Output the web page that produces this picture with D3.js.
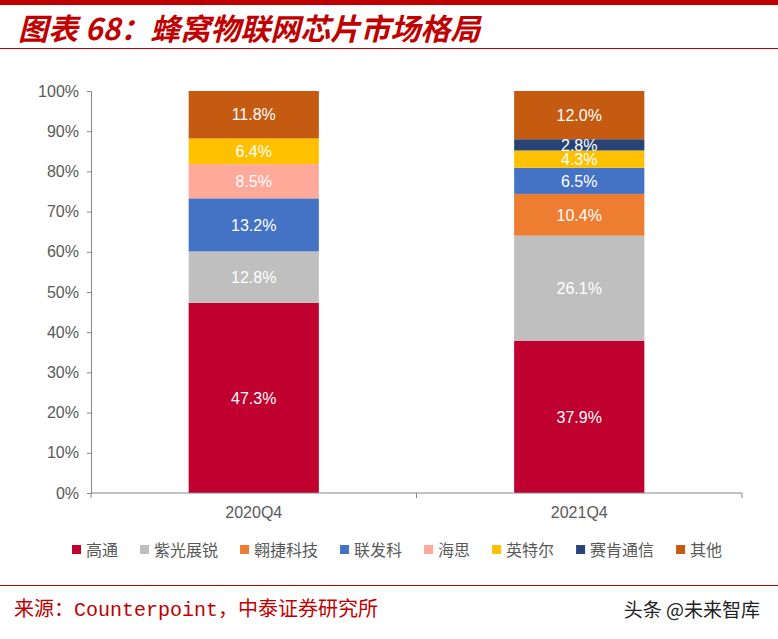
<!DOCTYPE html>
<html>
<head>
<meta charset="utf-8">
<script src="https://cdn.jsdelivr.net/npm/d3@7.9.0/dist/d3.min.js"></script>
<style>
  body { margin: 0; background: #fff; }
  svg { display: block; }
</style>
</head>
<body>
<svg id="chart" width="778" height="639"></svg>
<script>
// data
const quarters = ['2020Q4', '2021Q4'];
const vendors = ['高通', '紫光展锐', '翱捷科技', '联发科', '海思', '英特尔', '赛肯通信', '其他'];
const colors = ['#C0002E', '#BFBFBF', '#ED7D31', '#4472C4', '#FFA99A', '#FFC000', '#264478', '#C55A11'];
const share2020 = [47.3, 12.8, 0, 13.2, 8.5, 6.4, 0, 11.8];
const share2021 = [37.9, 26.1, 10.4, 6.5, 0, 4.3, 2.8, 12.0];
const yTicks = [0, 10, 20, 30, 40, 50, 60, 70, 80, 90, 100];

const svg = d3.select('#chart');
const red = '#C00000';
const grey = '#595959';

// header
svg.append('rect').attr('x', 0).attr('y', 0).attr('width', 778).attr('height', 5).attr('fill', red);
svg.append('line').attr('x1', 0).attr('x2', 778).attr('y1', 48.5).attr('y2', 48.5)
  .attr('stroke', red).attr('stroke-width', 1);
svg.append('text')
  .attr('x', 18).attr('y', 40)
  .attr('fill', red)
  .attr('font-family', '"Noto Sans CJK SC", sans-serif')
  .attr('font-weight', 'bold')
  .attr('font-style', 'italic')
  .attr('font-size', 30)
  .text('图表 68：蜂窝物联网芯片市场格局');

// scales
const x = d3.scaleBand().domain(quarters).range([91, 742]).paddingInner(0.6).paddingOuter(0.3);
const y = d3.scaleLinear().domain([0, 100]).range([493, 91]);

const table = quarters.map((q, qi) => {
  const vals = qi === 0 ? share2020 : share2021;
  let acc = 0;
  return vendors.map((v, i) => {
    const d = { quarter: q, vendor: v, value: vals[i], y0: acc, y1: acc + vals[i], color: colors[i] };
    acc += vals[i];
    return d;
  });
}).flat();

// bars
svg.append('g').selectAll('rect')
  .data(table.filter(d => d.value > 0))
  .join('rect')
  .attr('x', d => x(d.quarter))
  .attr('width', x.bandwidth())
  .attr('y', d => y(d.y1))
  .attr('height', d => y(d.y0) - y(d.y1))
  .attr('fill', d => d.color);

svg.append('g').selectAll('text')
  .data(table.filter(d => d.value > 0))
  .join('text')
  .attr('x', d => x(d.quarter) + x.bandwidth() / 2)
  .attr('y', d => y((d.y0 + d.y1) / 2))
  .attr('dy', '0.36em')
  .attr('text-anchor', 'middle')
  .attr('fill', '#fff')
  .attr('font-family', '"Liberation Sans", Arial, sans-serif')
  .attr('font-size', 16)
  .text(d => d.value.toFixed(1) + '%');

// axes
const yAxis = svg.append('g')
  .attr('transform', 'translate(91,0)')
  .call(d3.axisLeft(y).tickValues(yTicks).tickSize(4).tickPadding(8).tickFormat(d => d + '%'));
const xAxis = svg.append('g')
  .attr('transform', 'translate(0,493)')
  .call(d3.axisBottom(x).tickSize(0).tickPadding(14));

[yAxis, xAxis].forEach(g => {
  g.select('.domain').attr('stroke', '#868686');
  g.selectAll('.tick line').attr('stroke', '#868686');
  g.selectAll('text')
    .attr('fill', grey)
    .attr('font-family', '"Liberation Sans", Arial, sans-serif')
    .attr('font-size', 16);
});
xAxis.select('.domain').remove();
xAxis.append('line').attr('x1', 91).attr('x2', 742).attr('stroke', '#868686');
// category separator ticks
xAxis.selectAll('.sep')
  .data([91, (x(quarters[0]) + x.bandwidth() + x(quarters[1])) / 2, 742])
  .join('line')
  .attr('x1', d => d).attr('x2', d => d)
  .attr('y1', 0).attr('y2', 5)
  .attr('stroke', '#868686');

// legend
const legend = svg.append('g').attr('transform', 'translate(72,550)');
let lx = 0;
vendors.forEach((v, i) => {
  legend.append('rect').attr('x', lx).attr('y', -5).attr('width', 9).attr('height', 9).attr('fill', colors[i]);
  const t = legend.append('text')
    .attr('x', lx + 14).attr('y', 0).attr('dy', '0.36em')
    .attr('fill', grey)
    .attr('font-family', '"Noto Sans CJK SC", sans-serif')
    .attr('font-size', 16)
    .text(v);
  lx += 14 + t.node().getComputedTextLength() + 22;
});

// footer
svg.append('line').attr('x1', 0).attr('x2', 778).attr('y1', 585.5).attr('y2', 585.5)
  .attr('stroke', red).attr('stroke-width', 1);
svg.append('text')
  .attr('x', 14).attr('y', 616)
  .attr('fill', red)
  .attr('font-family', '"Liberation Mono", "Noto Sans CJK SC", monospace')
  .attr('font-size', 20)
  .text('来源：Counterpoint，中泰证券研究所');
svg.append('text')
  .attr('x', 760).attr('y', 617)
  .attr('text-anchor', 'end')
  .attr('fill', '#222')
  .attr('font-family', '"Noto Sans CJK SC", sans-serif')
  .attr('font-size', 19)
  .text('头条 @未来智库');
</script>
</body>
</html>
